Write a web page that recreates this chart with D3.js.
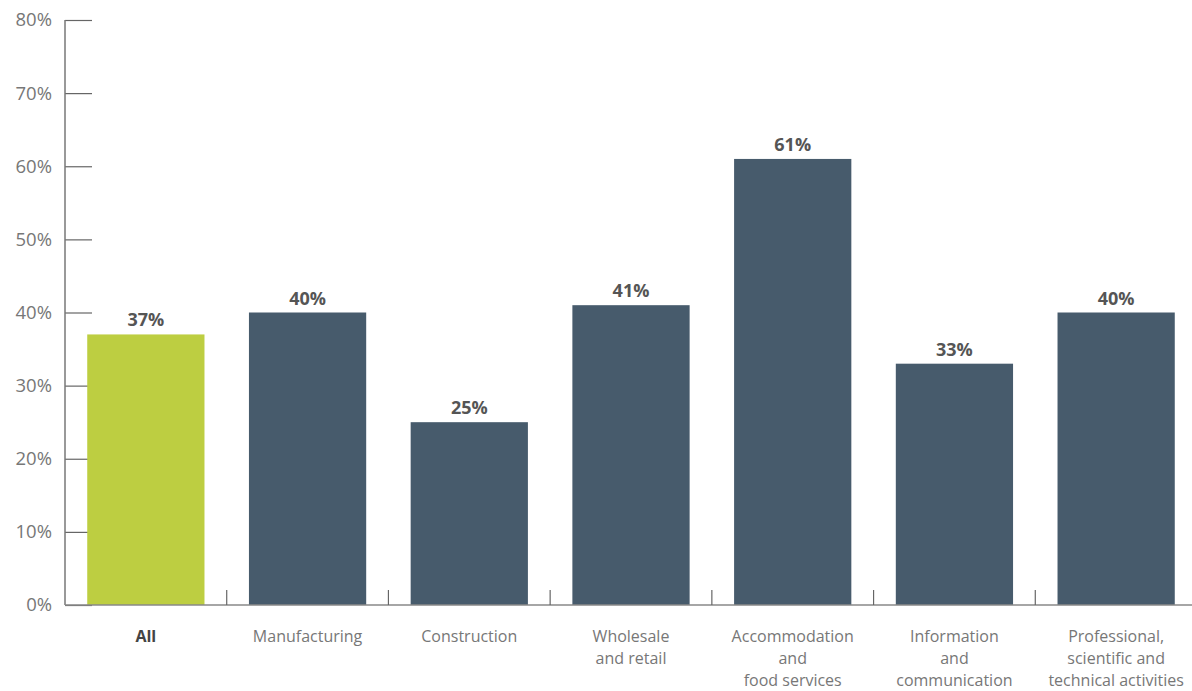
<!DOCTYPE html>
<html>
<head>
<meta charset="utf-8">
<script src="https://cdn.jsdelivr.net/npm/d3@7"></script>
<style>
 body { margin:0; background:#fff; }
 svg { display:block; font-family: "Open Sans", Lato, sans-serif; }
</style>
</head>
<body>
<svg id="chart" width="1192" height="691"></svg>
<script>
// data
const categories = ["All", "Manufacturing", "Construction", "Wholesale and retail",
 "Accommodation and food services", "Information and communication",
 "Professional, scientific and technical activities"];
const labelLines = [["All"], ["Manufacturing"], ["Construction"], ["Wholesale", "and retail"],
 ["Accommodation", "and", "food services"], ["Information", "and", "communication"],
 ["Professional,", "scientific and", "technical activities"]];
const values = [37, 40, 25, 41, 61, 33, 40];
const yTicks = [0, 10, 20, 30, 40, 50, 60, 70, 80];

const svg = d3.select("#chart");
const m = {left: 65, right: 1197, top: 20, bottom: 605};

const x = d3.scaleBand().domain(categories).range([m.left, m.right]).paddingInner(0.275).paddingOuter(0.1375);
const step = x.step();
const y = d3.scaleLinear().domain([0, 80]).range([m.bottom, m.top]);

// y axis
const yAxis = svg.append("g").attr("transform", "translate(" + m.left + ",0)")
 .call(d3.axisRight(y).tickValues(yTicks).tickSize(27).tickFormat(""));
yAxis.select(".domain").remove();
yAxis.selectAll("line").attr("stroke", "#666").attr("stroke-width", 1.2);
svg.append("line").attr("x1", m.left).attr("x2", m.left).attr("y1", m.top).attr("y2", m.bottom)
 .attr("stroke", "#777").attr("stroke-width", 1.5);

svg.selectAll("text.ylab").data(yTicks).enter().append("text")
 .attr("class", "ylab")
 .attr("x", 52).attr("y", d => y(d))
 .attr("dy", "0.35em")
 .attr("text-anchor", "end")
 .attr("font-size", 18.5)
 .attr("fill", "#777")
 .text(d => d + "%");

// bars
svg.selectAll("rect.bar").data(values).enter().append("rect")
 .attr("class", "bar")
 .attr("x", (d, i) => x(categories[i]))
 .attr("width", x.bandwidth())
 .attr("y", d => y(d))
 .attr("height", d => y(0) - y(d))
 .attr("fill", (d, i) => i == 0 ? "#bdce41" : "#475b6c");

// x axis line and separators
svg.append("line").attr("x1", m.left).attr("x2", 1192).attr("y1", m.bottom).attr("y2", m.bottom)
 .attr("stroke", "#888").attr("stroke-width", 1.5);
svg.selectAll("line.sep").data(categories.slice(1)).enter().append("line")
 .attr("class", "sep")
 .attr("x1", d => x(d) - step * 0.1375).attr("x2", d => x(d) - step * 0.1375)
 .attr("y1", m.bottom).attr("y2", m.bottom - 15)
 .attr("stroke", "#666").attr("stroke-width", 1.2);

// value labels
svg.selectAll("text.val").data(values).enter().append("text")
 .attr("class", "val")
 .attr("x", (d, i) => x(categories[i]) + x.bandwidth() / 2)
 .attr("y", d => y(d) - 8)
 .attr("text-anchor", "middle")
 .attr("font-size", 18)
 .attr("font-weight", "bold")
 .attr("fill", "#555")
 .text(d => d + "%");

// category labels
const cl = svg.selectAll("text.cat").data(labelLines).enter().append("text")
 .attr("class", "cat")
 .attr("text-anchor", "middle")
 .attr("font-size", 16)
 .attr("fill", (d, i) => i == 0 ? "#444" : "#777")
 .attr("font-weight", (d, i) => i == 0 ? "bold" : "normal");
cl.each(function(lines, i) {
 const t = d3.select(this);
 lines.forEach((ln, j) => {
  t.append("tspan")
   .attr("x", x(categories[i]) + x.bandwidth() / 2)
   .attr("y", 642 + j * 22)
   .text(ln);
 });
});
</script>
</body>
</html>
